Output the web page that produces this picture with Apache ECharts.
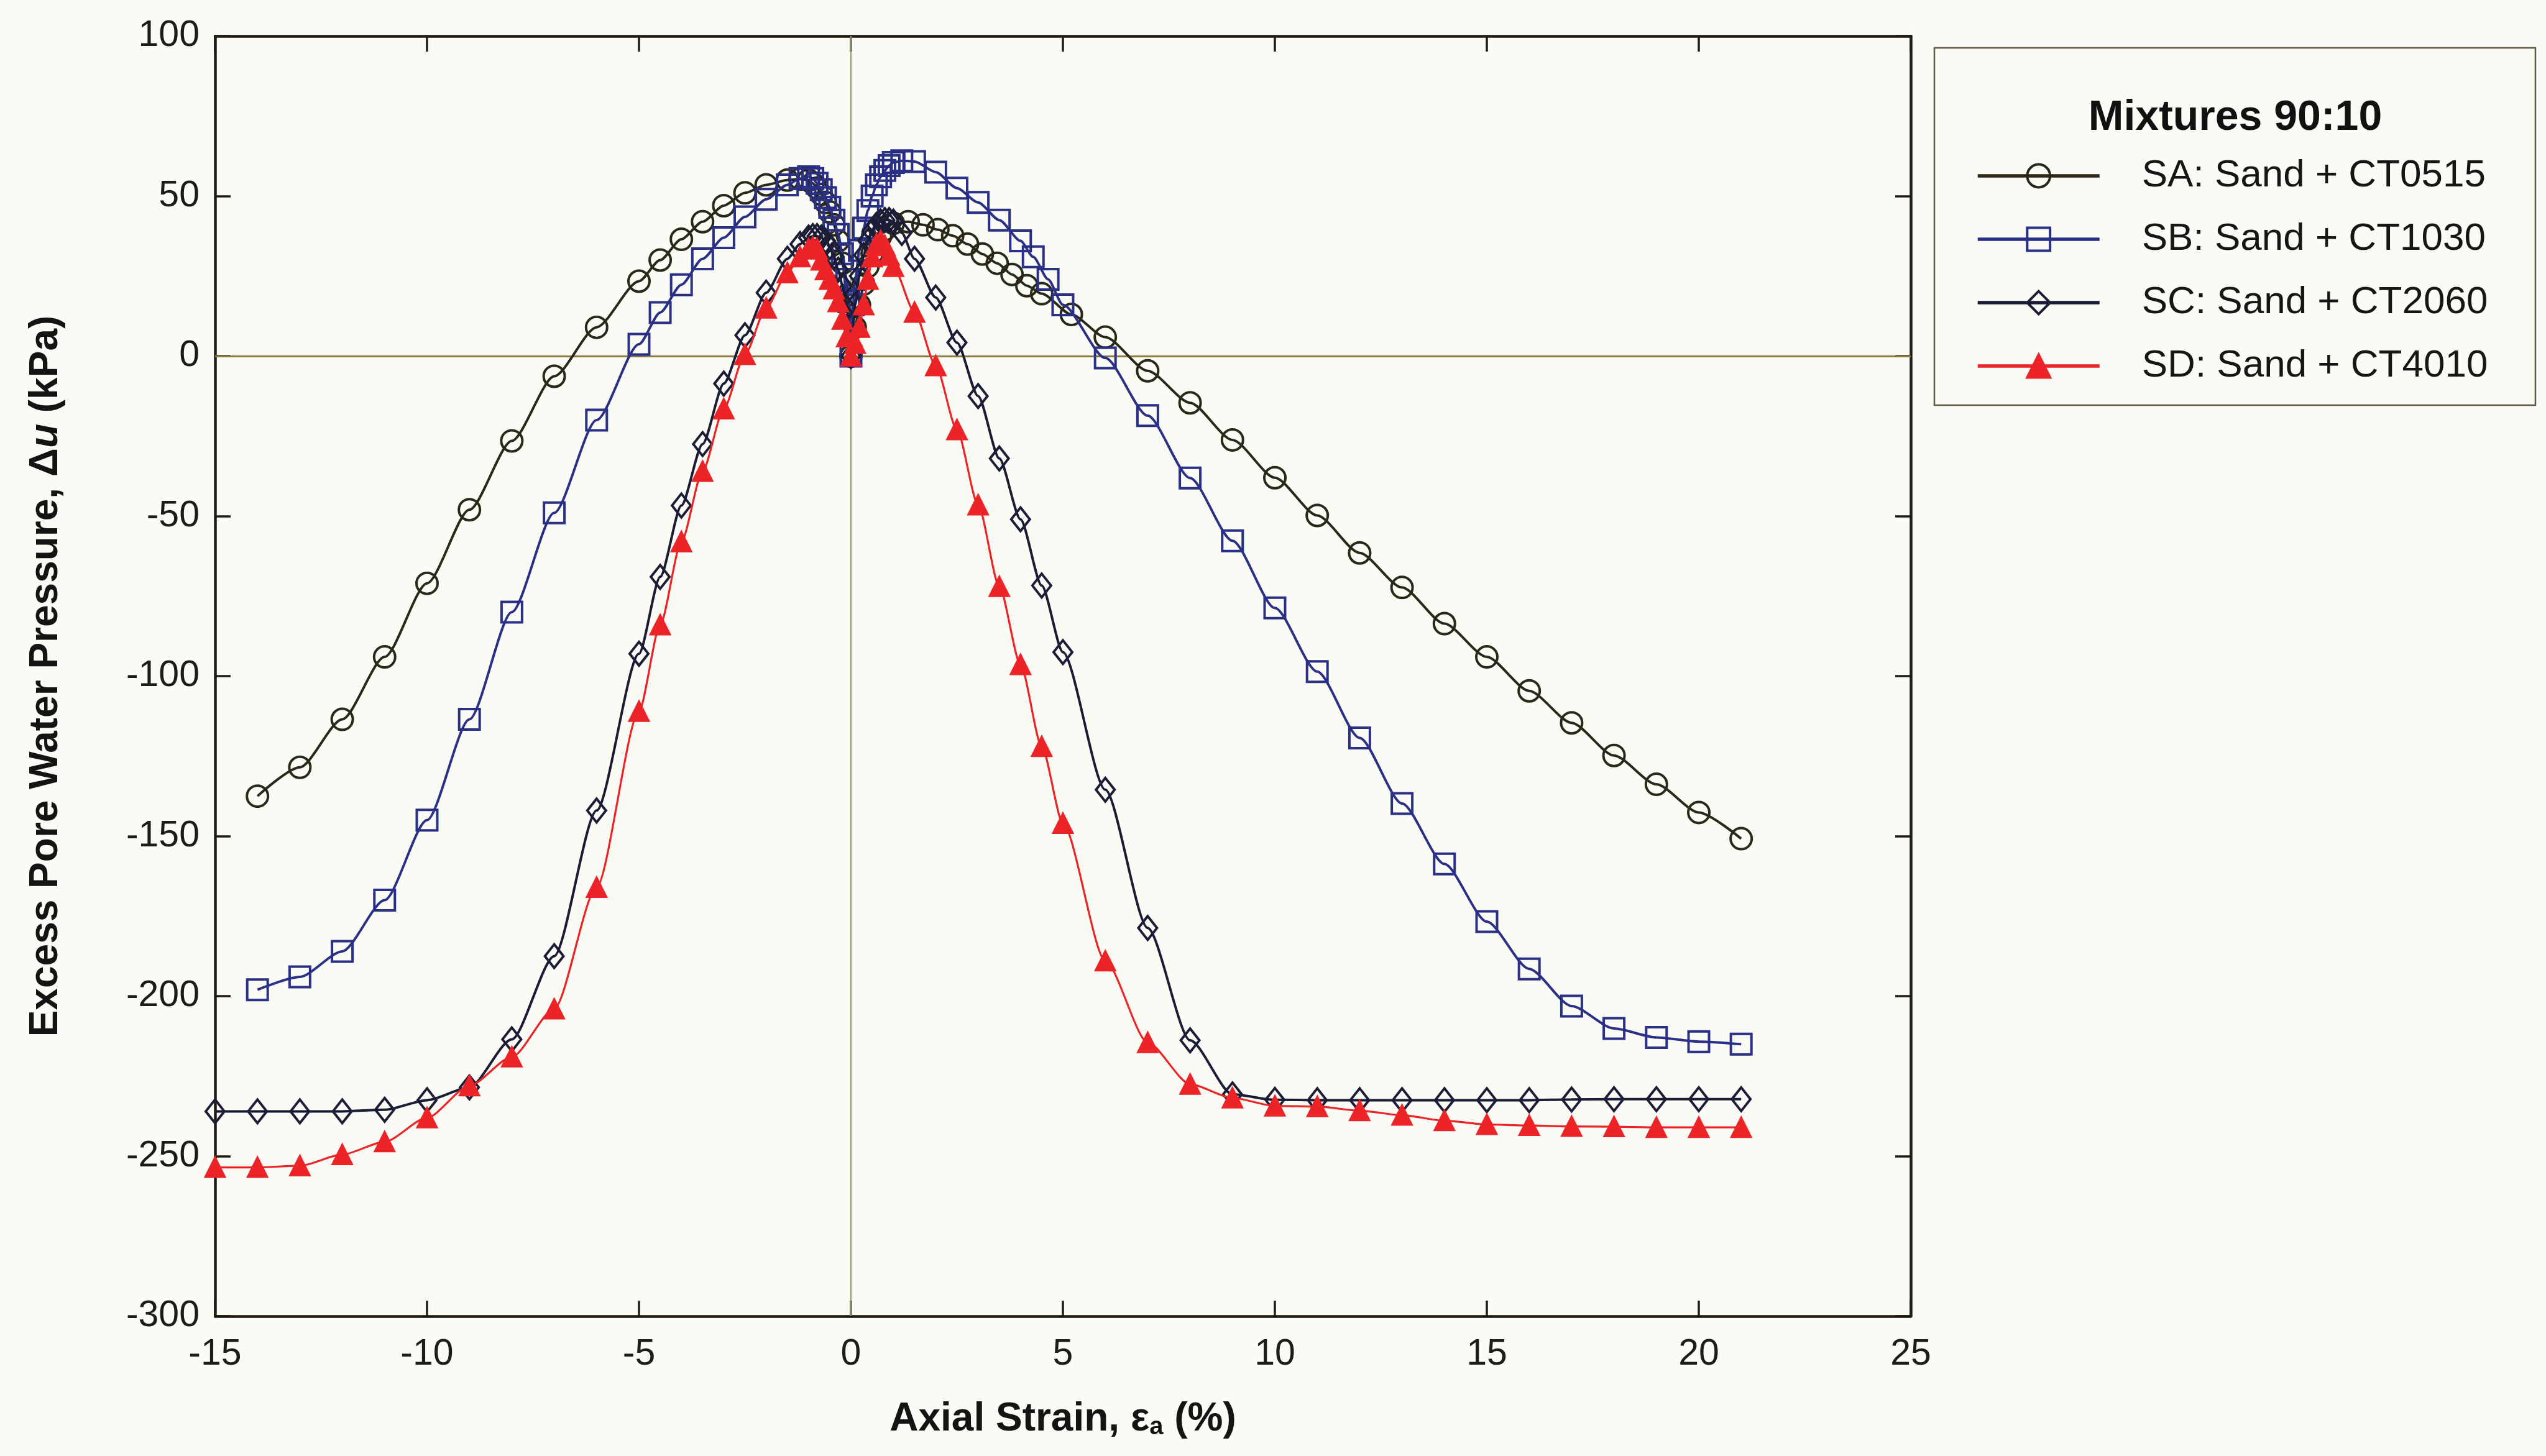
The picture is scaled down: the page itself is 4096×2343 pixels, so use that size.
<!DOCTYPE html>
<html><head><meta charset="utf-8">
<script src="https://cdn.jsdelivr.net/npm/echarts@6/dist/echarts.min.js"></script>
<style>html,body{margin:0;padding:0;background:#fbfbf6}#c{width:4096px;height:2343px}</style>
</head><body><div id="c"></div>
<script>
const seriesNames = ['SA: Sand + CT0515', 'SB: Sand + CT1030', 'SC: Sand + CT2060', 'SD: Sand + CT4010'];
const legendTitle = 'Mixtures 90:10';
const xTickValues = [-15, -10, -5, 0, 5, 10, 15, 20, 25];
const yTickValues = [-300, -250, -200, -150, -100, -50, 0, 50, 100];

const saStrain = [-14,-13,-12,-11,-10,-9,-8,-7,-6,-5,-4.5,-4,-3.5,-3,-2.5,-2,-1.5,-1.2,-1.0,-0.9,-0.8,-0.7,-0.6,-0.5,-0.4,-0.3,-0.2,-0.1,0,0.1,0.2,0.3,0.4,0.5,0.6,0.7,0.8,1.0,1.35,1.7,2.05,2.4,2.75,3.1,3.45,3.8,4.15,4.5,5.2,6,7,8,9,10,11,12,13,14,15,16,17,18,19,20,21];
const saPressure = [-137.5,-128.5,-113.5,-94,-71,-48,-26.5,-6.3,9,23.4,30,36.5,42,47,51,53.5,55,55.3,55,54,52.5,50.5,48,45,41,36,29,19,0,9,16,22.5,28,32,35,37.5,39.5,41.5,42,41,39.5,37.6,35,31.9,29,25.5,22,19.5,13,5.9,-4.6,-14.6,-26.2,-38,-49.8,-61.5,-72.3,-83.6,-94,-104.6,-114.6,-124.8,-133.8,-142.6,-150.8];

const sbStrain = [-14,-13,-12,-11,-10,-9,-8,-7,-6,-5,-4.5,-4,-3.5,-3,-2.5,-2,-1.5,-1.2,-1.0,-0.9,-0.8,-0.7,-0.6,-0.5,-0.4,-0.3,-0.2,-0.1,-0.05,0,0.05,0.1,0.2,0.3,0.4,0.5,0.6,0.7,0.8,0.9,1.0,1.2,1.5,2.0,2.5,3.0,3.5,4.0,4.3,4.65,5.0,6,7,8,9,10,11,12,13,14,15,16,17,18,19,20,21];
const sbPressure = [-198,-194,-186,-170,-145,-113.5,-80,-49,-20,3.7,13.6,22.3,30.4,37,43.5,49,53.5,55.5,56,55.5,54,52,49.5,46.5,42.5,38,32,24,17,0,16,24,33,40,45.5,50,53.5,56,58,59.5,60.5,61,60.8,57.5,52.5,48,42.5,36,31,24,16,-0.6,-18.6,-38.1,-57.7,-78.7,-98.6,-119.3,-139.8,-158.7,-176.7,-191.5,-203.1,-210.1,-212.9,-214.2,-215];

const scStrain = [-15,-14,-13,-12,-11,-10,-9,-8,-7,-6,-5,-4.5,-4,-3.5,-3,-2.5,-2,-1.5,-1.2,-1.0,-0.9,-0.8,-0.7,-0.6,-0.5,-0.4,-0.3,-0.2,-0.1,0,0.1,0.2,0.3,0.4,0.5,0.6,0.7,0.8,0.9,1.0,1.2,1.5,2.0,2.5,3.0,3.5,4.0,4.5,5.0,6,7,8,9,10,11,12,13,14,15,16,17,18,19,20,21];
const scPressure = [-236,-236,-236,-236,-235.5,-232.5,-228.5,-213.5,-187.5,-142,-93,-69,-46.7,-27.5,-8.6,6.5,19.8,30.4,35,37,37.5,37.5,37,36,34,31,27,22,15,0,16,25,31.5,36,39,41,42,42.5,42.5,42,38.5,30.4,18.3,4.2,-12.5,-32,-51,-71.7,-92.5,-135.5,-178.7,-213.8,-230.7,-232.4,-232.5,-232.5,-232.5,-232.5,-232.5,-232.5,-232.3,-232.2,-232.2,-232.2,-232.2];

const sdStrain = [-15,-14,-13,-12,-11,-10,-9,-8,-7,-6,-5,-4.5,-4,-3.5,-3,-2.5,-2,-1.5,-1.2,-1.0,-0.9,-0.8,-0.7,-0.6,-0.5,-0.4,-0.3,-0.2,-0.1,0,0.1,0.2,0.3,0.4,0.5,0.6,0.7,0.8,0.9,1.0,1.5,2.0,2.5,3.0,3.5,4.0,4.5,5.0,6,7,8,9,10,11,12,13,14,15,16,17,18,19,20,21];
const sdPressure = [-253.5,-253.5,-253,-249.5,-245.5,-238,-228,-219,-204,-166,-111,-84,-58,-36,-16.5,0.5,15,26,31,33.5,34,33.5,30,27,24,21,17,11.5,6,0,4,9,16,24,31,35,36,34.5,31.5,28,13.7,-3,-23,-46.5,-72,-96.4,-122,-146,-189,-214.5,-227.5,-231.8,-234.3,-234.5,-235.8,-237.2,-238.9,-240.1,-240.4,-240.7,-240.8,-241,-241,-241];

const zip = (xs, ys) => xs.map((x, i) => [x, ys[i]]);
const FONT = '"Liberation Sans", Arial, Helvetica, sans-serif';
const AX = '#201c14';
const colors = ['#2a2818', '#2b3087', '#1a1d35', '#ec2327'];

const xMin = xTickValues[0], xMax = xTickValues[xTickValues.length - 1], xInt = xTickValues[1] - xTickValues[0];
const yMin = yTickValues[0], yMax = yTickValues[yTickValues.length - 1], yInt = yTickValues[1] - yTickValues[0];

function mkSeries(i, xs, ys, symbol, size, filled, lw) {
  return {
    name: seriesNames[i], type: 'line', data: zip(xs, ys),
    xAxisIndex: 0, yAxisIndex: 0,
    smooth: 0.25, smoothMonotone: 'x',
    symbol: symbol, symbolSize: size, showSymbol: true, showAllSymbol: true,
    lineStyle: { color: colors[i], width: lw },
    itemStyle: { color: filled ? colors[i] : 'rgba(0,0,0,0)', borderColor: colors[i], borderWidth: 4 },
    emphasis: { disabled: true },
    z: 3 + i
  };
}

const chart = echarts.init(document.getElementById('c'), null, { renderer: 'canvas' });
const sa = mkSeries(0, saStrain, saPressure, 'circle', 34, false, 4);
sa.markLine = {
  silent: true, symbol: 'none', z: 1, label: { show: false },
  data: [
    { xAxis: 0, lineStyle: { color: '#9a9478', width: 2.2, type: 'solid' } },
    { yAxis: 0, lineStyle: { color: '#8a7a40', width: 3, type: 'solid' } }
  ]
};

const axisBase = {
  axisLine: { show: true, onZero: false, lineStyle: { color: AX, width: 4.5 } },
  axisTick: { show: true, inside: true, length: 25, lineStyle: { color: AX, width: 3.5 } },
  splitLine: { show: false }
};

chart.setOption({
  backgroundColor: '#fbfbf6',
  animation: false,
  grid: { left: 346, right: 1022, top: 58, bottom: 225, outerBoundsMode: 'none', containLabel: false },
  xAxis: [
    Object.assign({}, axisBase, {
      type: 'value', position: 'bottom', min: xMin, max: xMax, interval: xInt,
      axisLabel: { show: true, fontSize: 59, fontFamily: FONT, color: '#1c1c1c', margin: 32 },
      name: '{t|Axial Strain, ε}{s|a}{t| (%)}', nameLocation: 'middle', nameGap: 128,
      nameTextStyle: {
        fontFamily: FONT, color: '#141414',
        rich: {
          t: { fontSize: 64, fontWeight: 'bold', fontFamily: FONT, color: '#141414', lineHeight: 76 },
          s: { fontSize: 40, fontWeight: 'bold', fontFamily: FONT, color: '#141414', lineHeight: 76, padding: [26, 0, 0, 0] }
        }
      }
    }),
    Object.assign({}, axisBase, {
      type: 'value', position: 'top', min: xMin, max: xMax, interval: xInt,
      axisLabel: { show: false }
    })
  ],
  yAxis: [
    Object.assign({}, axisBase, {
      type: 'value', position: 'left', min: yMin, max: yMax, interval: yInt,
      axisLabel: { show: true, fontSize: 59, fontFamily: FONT, color: '#1c1c1c', margin: 25 },
      name: '{t|Excess Pore Water Pressure, Δ}{i|u}{t| (kPa)}', nameLocation: 'middle', nameGap: 240,
      nameTextStyle: {
        fontFamily: FONT, color: '#141414',
        rich: {
          t: { fontSize: 64, fontWeight: 'bold', fontFamily: FONT, color: '#141414' },
          i: { fontSize: 64, fontWeight: 'bold', fontStyle: 'italic', fontFamily: FONT, color: '#141414' }
        }
      }
    }),
    Object.assign({}, axisBase, {
      type: 'value', position: 'right', min: yMin, max: yMax, interval: yInt,
      axisLabel: { show: false }
    })
  ],
  legend: {
    show: true, orient: 'vertical', left: 3174, top: 245,
    itemWidth: 196, itemHeight: 46, itemGap: 36,
    data: seriesNames,
    lineStyle: { width: 5.5 },
    itemStyle: { borderWidth: 4 },
    textStyle: { fontSize: 62, fontFamily: FONT, color: '#161616', lineHeight: 66, padding: [0, 0, 0, 63] },
    selectedMode: false
  },
  graphic: [
    { type: 'rect', shape: { x: 3112, y: 77, width: 967, height: 575 },
      style: { fill: 'rgba(0,0,0,0)', stroke: '#5e5a44', lineWidth: 2.5 }, z: 0 },
    { type: 'text', x: 3596, y: 190,
      style: { text: legendTitle, font: 'bold 68px ' + FONT, fill: '#111', textAlign: 'center', textVerticalAlign: 'middle' } }
  ],
  series: [
    sa,
    mkSeries(1, sbStrain, sbPressure, 'rect', 33, false, 4),
    mkSeries(2, scStrain, scPressure, 'diamond', [30, 38], false, 4),
    mkSeries(3, sdStrain, sdPressure, 'triangle', 30, true, 3.2)
  ]
});
</script>
</body></html>
